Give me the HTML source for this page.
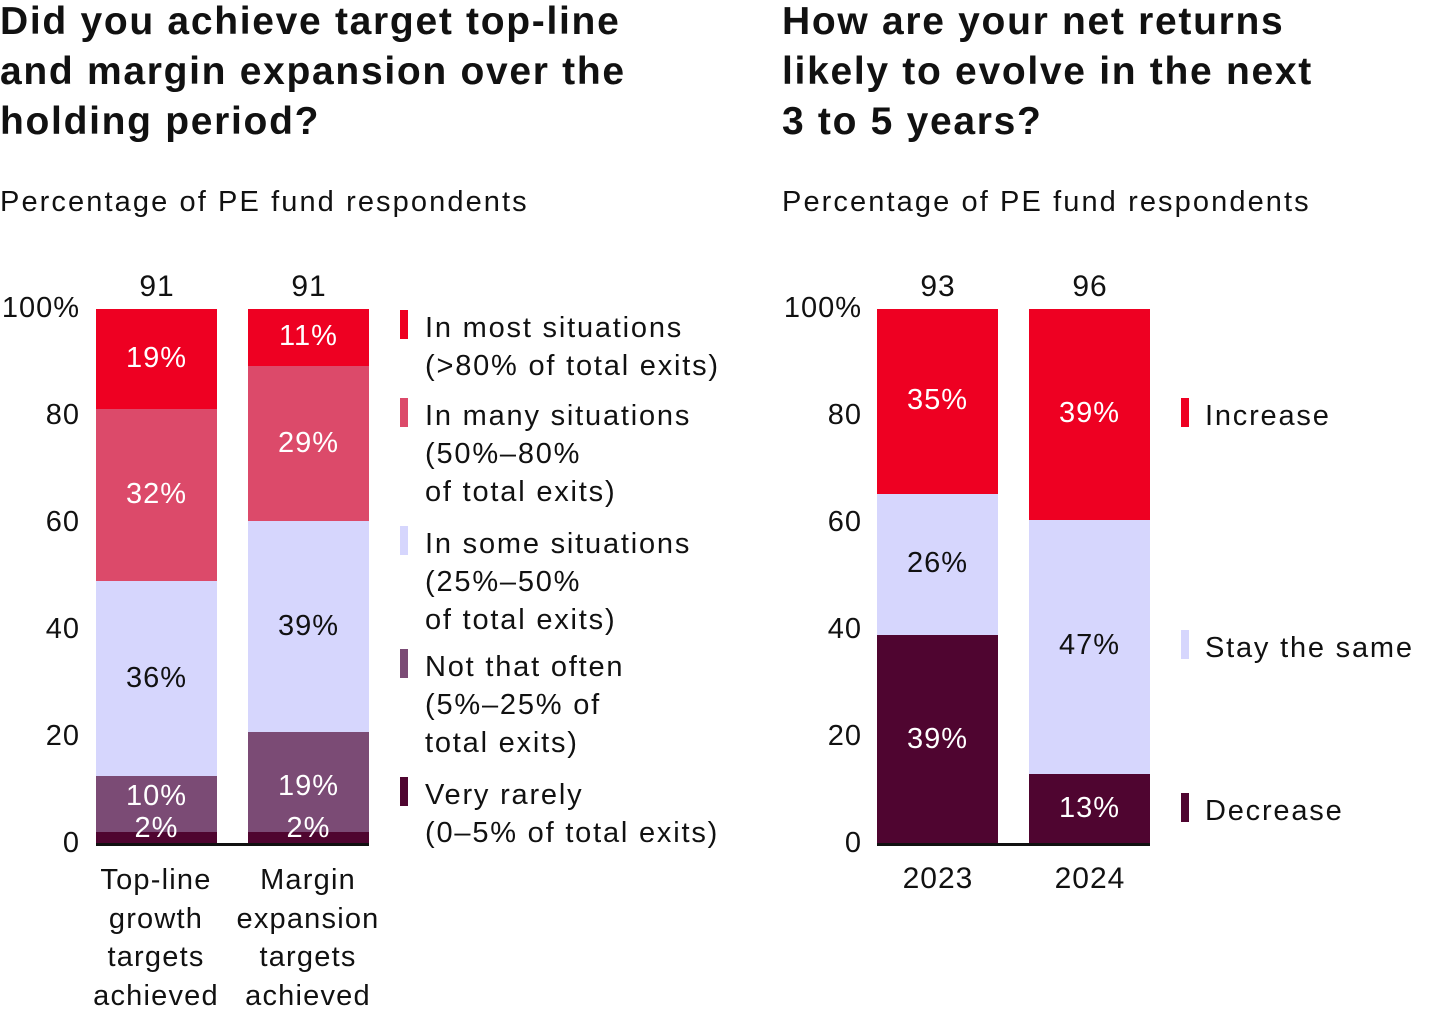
<!DOCTYPE html><html><head><style>
body{margin:0;width:1440px;height:1013px;background:#fff;font-family:"Liberation Sans",sans-serif;color:#111;position:relative;overflow:hidden}
div{position:absolute;white-space:nowrap}
.t{font-weight:bold;font-size:39px;line-height:50px;letter-spacing:1.7px}
.s{font-size:29px;letter-spacing:2.1px}
.n{font-size:30px;text-align:center;width:122px;letter-spacing:1px}
.y{font-size:29px;text-align:right;width:80px;letter-spacing:1px}
.bar{width:121px}
.w{color:#fff;font-size:29px;text-align:center;width:121px;letter-spacing:1px}
.lg{font-size:29px;line-height:38px;letter-spacing:1.8px}
.sw{width:8px}
</style></head><body>
<div class="t" style="left:0;top:-3px">Did you achieve target top-line<br>and margin expansion over the<br>holding period?</div>
<div class="t" style="left:782px;top:-3px">How are your net returns<br>likely to evolve in the next<br>3 to 5 years?</div>
<div class="s" style="left:0;top:186px">Percentage of PE fund respondents</div>
<div class="s" style="left:782px;top:186px">Percentage of PE fund respondents</div>

<div class="y" style="left:0;top:292px">100%</div><div class="y" style="left:0;top:399px">80</div><div class="y" style="left:0;top:506px">60</div><div class="y" style="left:0;top:613px">40</div><div class="y" style="left:0;top:720px">20</div><div class="y" style="left:0;top:827px">0</div>
<div class="y" style="left:782px;top:292px">100%</div><div class="y" style="left:782px;top:399px">80</div><div class="y" style="left:782px;top:506px">60</div><div class="y" style="left:782px;top:613px">40</div><div class="y" style="left:782px;top:720px">20</div><div class="y" style="left:782px;top:827px">0</div>

<div class="n" style="left:96px;top:270px">91</div><div class="n" style="left:248px;top:270px">91</div>
<div class="n" style="left:877px;top:270px">93</div><div class="n" style="left:1029px;top:270px">96</div>

<div class="bar" style="left:96px;top:309px;height:100px;background:#ee0022"></div>
<div class="bar" style="left:96px;top:409px;height:172px;background:#dc4a6a"></div>
<div class="bar" style="left:96px;top:581px;height:195px;background:#d6d6fd"></div>
<div class="bar" style="left:96px;top:776px;height:56px;background:#7b4b75"></div>
<div class="bar" style="left:96px;top:832px;height:12px;background:#4f0530"></div>
<div class="bar" style="left:248px;top:309px;height:57px;background:#ee0022"></div>
<div class="bar" style="left:248px;top:366px;height:155px;background:#dc4a6a"></div>
<div class="bar" style="left:248px;top:521px;height:211px;background:#d6d6fd"></div>
<div class="bar" style="left:248px;top:732px;height:100px;background:#7b4b75"></div>
<div class="bar" style="left:248px;top:832px;height:12px;background:#4f0530"></div>
<div style="left:96px;top:843px;width:273px;height:3px;background:#111"></div>

<div class="w" style="left:96px;top:342px">19%</div>
<div class="w" style="left:96px;top:478px">32%</div>
<div class="w" style="left:96px;top:662px;color:#111">36%</div>
<div class="w" style="left:96px;top:780px">10%</div>
<div class="w" style="left:96px;top:812px">2%</div>
<div class="w" style="left:248px;top:320px">11%</div>
<div class="w" style="left:248px;top:427px">29%</div>
<div class="w" style="left:248px;top:610px;color:#111">39%</div>
<div class="w" style="left:248px;top:770px">19%</div>
<div class="w" style="left:248px;top:812px">2%</div>

<div class="s" style="left:66px;top:861px;width:180px;text-align:center;line-height:38.5px;letter-spacing:1.2px">Top-line<br>growth<br>targets<br>achieved</div>
<div class="s" style="left:218px;top:861px;width:180px;text-align:center;line-height:38.5px;letter-spacing:1.2px">Margin<br>expansion<br>targets<br>achieved</div>

<div class="sw" style="left:400px;top:310px;height:29px;background:#ee0022"></div>
<div class="lg" style="left:425px;top:309px">In most situations<br>(&gt;80% of total exits)</div>
<div class="sw" style="left:400px;top:398px;height:29px;background:#dc4a6a"></div>
<div class="lg" style="left:425px;top:397px">In many situations<br>(50%–80%<br>of total exits)</div>
<div class="sw" style="left:400px;top:526px;height:29px;background:#d6d6fd"></div>
<div class="lg" style="left:425px;top:525px">In some situations<br>(25%–50%<br>of total exits)</div>
<div class="sw" style="left:400px;top:649px;height:29px;background:#7b4b75"></div>
<div class="lg" style="left:425px;top:648px">Not that often<br>(5%–25% of<br>total exits)</div>
<div class="sw" style="left:400px;top:777px;height:29px;background:#4f0530"></div>
<div class="lg" style="left:425px;top:776px">Very rarely<br>(0–5% of total exits)</div>

<div class="bar" style="left:877px;top:309px;height:185px;background:#ee0022"></div>
<div class="bar" style="left:877px;top:494px;height:141px;background:#d6d6fd"></div>
<div class="bar" style="left:877px;top:635px;height:209px;background:#4f0530"></div>
<div class="bar" style="left:1029px;top:309px;height:211px;background:#ee0022"></div>
<div class="bar" style="left:1029px;top:520px;height:254px;background:#d6d6fd"></div>
<div class="bar" style="left:1029px;top:774px;height:70px;background:#4f0530"></div>
<div style="left:877px;top:843px;width:273px;height:3px;background:#111"></div>
<div class="w" style="left:877px;top:384px">35%</div>
<div class="w" style="left:877px;top:547px;color:#111">26%</div>
<div class="w" style="left:877px;top:723px">39%</div>
<div class="w" style="left:1029px;top:397px">39%</div>
<div class="w" style="left:1029px;top:629px;color:#111">47%</div>
<div class="w" style="left:1029px;top:792px">13%</div>
<div class="n" style="left:877px;top:862px">2023</div><div class="n" style="left:1029px;top:862px">2024</div>

<div class="sw" style="left:1181px;top:398px;height:29px;background:#ee0022"></div>
<div class="lg" style="left:1205px;top:397px">Increase</div>
<div class="sw" style="left:1181px;top:630px;height:29px;background:#d6d6fd"></div>
<div class="lg" style="left:1205px;top:629px">Stay the same</div>
<div class="sw" style="left:1181px;top:793px;height:29px;background:#4f0530"></div>
<div class="lg" style="left:1205px;top:792px">Decrease</div>
</body></html>
